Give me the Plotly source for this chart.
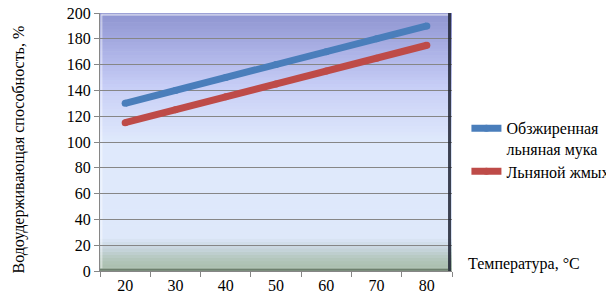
import plotly.graph_objects as go

temperatures = ["20", "30", "40", "50", "60", "70", "80"]
defatted_flour = [130, 140, 150, 160, 170, 180, 190]
flax_cake = [115, 125, 135, 145, 155, 165, 175]
series_names = ["Обзжиренная<br>льняная мука", "Льняной жмых"]
y_ticks = [0, 20, 40, 60, 80, 100, 120, 140, 160, 180, 200]

FONT = "Liberation Serif"
FS = 16

fig = go.Figure()
fig.add_trace(go.Scatter(x=temperatures, y=defatted_flour, name=series_names[0],
                         mode="lines+markers", legend="legend",
                         line=dict(color="#4a7ebb", width=7),
                         marker=dict(color="#4a7ebb", size=7)))
fig.add_trace(go.Scatter(x=temperatures, y=flax_cake, name=series_names[1],
                         mode="lines+markers", legend="legend2",
                         line=dict(color="#be4b48", width=7),
                         marker=dict(color="#be4b48", size=7)))

# background gradient of the plot area
stops = [
    (0.00, (166, 187, 168)),
    (0.05, (180, 199, 190)),
    (0.09, (200, 214, 222)),
    (0.13, (222, 232, 250)),
    (0.50, (223, 233, 252)),
    (0.62, (210, 218, 248)),
    (0.72, (198, 205, 246)),
    (0.85, (172, 178, 230)),
    (1.00, (142, 148, 208)),
]

def color_at(f):
    for (f0, c0), (f1, c1) in zip(stops[:-1], stops[1:]):
        if f0 <= f <= f1:
            t = (f - f0) / (f1 - f0) if f1 > f0 else 0
            return "rgb(%d,%d,%d)" % tuple(round(a + (b - a) * t) for a, b in zip(c0, c1))
    return "rgb(%d,%d,%d)" % stops[-1][1]

shapes = []
n = 80
for i in range(n):
    f0 = i / n
    f1 = min(1.0, (i + 1) / n + 0.002)
    shapes.append(dict(type="rect", xref="x domain", yref="y domain",
                       x0=0, x1=1, y0=f0, y1=f1,
                       fillcolor=color_at((f0 + f1) / 2), line=dict(width=0),
                       layer="below"))
# bevel edges
shapes.append(dict(type="line", xref="x domain", yref="y domain", x0=0.004, x1=0.004, y0=0.01, y1=0.995,
                   line=dict(color="rgba(255,255,255,0.45)", width=2), layer="below"))
shapes.append(dict(type="line", xref="x domain", yref="y domain", x0=0.004, x1=0.99, y0=0.993, y1=0.993,
                   line=dict(color="rgba(255,255,255,0.5)", width=2), layer="below"))
shapes.append(dict(type="line", xref="x domain", yref="y domain", x0=0.993, x1=0.993, y0=0.0, y1=1.0,
                   line=dict(color="rgba(30,35,50,0.85)", width=3), layer="above"))
shapes.append(dict(type="line", xref="x domain", yref="y domain", x0=0.0, x1=0.99, y0=0.005, y1=0.005,
                   line=dict(color="rgba(70,85,70,0.6)", width=2), layer="above"))

legend_common = dict(xanchor="left", yanchor="top",
                     font=dict(family=FONT, size=FS, color="black"),
                     bgcolor="rgba(0,0,0,0)", valign="top", itemwidth=30)

fig.update_layout(
    template="none",
    width=614, height=301,
    margin=dict(l=92, r=170, t=5, b=38, autoexpand=False),
    paper_bgcolor="white",
    plot_bgcolor="#dfe9fc",
    shapes=shapes,
    font=dict(family=FONT, size=FS, color="black"),
    showlegend=True,
    legend=dict(x=1.041, y=0.619, **legend_common),
    legend2=dict(x=1.041, y=0.452, **legend_common),
    annotations=[
        dict(text="Водоудерживающая способность, %", textangle=-90,
             xref="paper", yref="paper", x=-0.2315, y=0.469,
             xanchor="center", yanchor="middle", showarrow=False,
             font=dict(family=FONT, size=FS, color="black")),
        dict(text="Температура, °C", xref="paper", yref="paper",
             x=1.04, y=0.027, xanchor="left", yanchor="middle", showarrow=False,
             font=dict(family=FONT, size=FS, color="black")),
    ],
)
fig.update_xaxes(type="category", categoryorder="array", categoryarray=temperatures,
                 tickson="boundaries", ticks="outside", ticklen=5, tickcolor="#868686",
                 showline=True, linecolor="#868686", linewidth=1, automargin=False,
                 showgrid=False, tickfont=dict(family=FONT, size=FS, color="black"),
                 ticklabeloverflow="allow", range=[-0.5, 6.5])
fig.update_yaxes(range=[0, 200], tickvals=y_ticks, ticks="outside", ticklen=5,
                 tickcolor="#868686", showline=True, linecolor="#868686", linewidth=1,
                 showgrid=True, gridcolor="#868686", gridwidth=1, zeroline=False,
                 automargin=False, ticklabeloverflow="allow",
                 tickfont=dict(family=FONT, size=FS, color="black"))

fig.write_html("out.html")
